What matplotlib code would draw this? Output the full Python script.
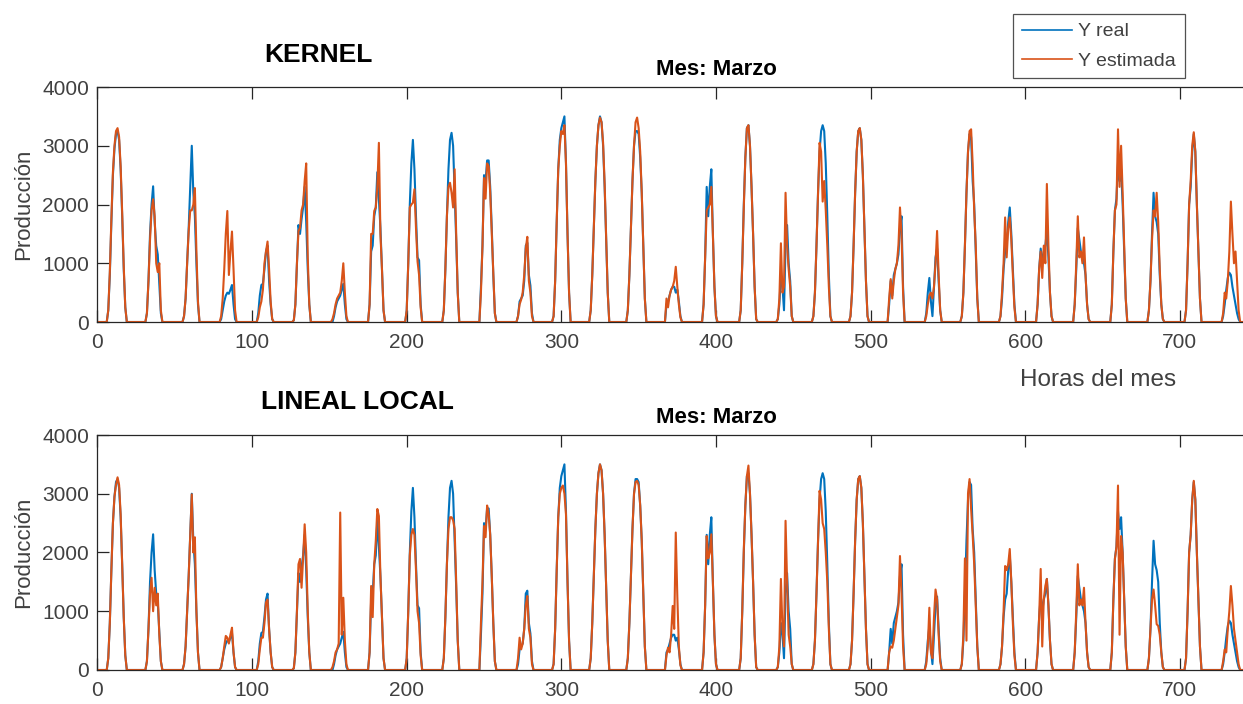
import numpy as np
import matplotlib
matplotlib.use("Agg")
import matplotlib.pyplot as plt

plt.rcParams['font.family'] = ['Liberation Sans', 'DejaVu Sans']

# hourly production for each day of March, hours 7..19 (night hours are zero)
first_hour = 7

y_real = [
    [200, 800, 1700, 2500, 2950, 3200, 3250, 3100, 2600, 1800, 900, 250, 0],
    [0, 150, 700, 1500, 2000, 2310, 1700, 1300, 1150, 650, 150, 0, 0],
    [0, 100, 400, 1000, 1600, 2300, 3000, 2200, 1800, 1000, 300, 0, 0],
    [0, 50, 200, 350, 450, 500, 480, 550, 630, 300, 50, 0, 0],
    [0, 150, 450, 630, 650, 900, 1200, 1300, 700, 300, 50, 0, 0],
    [30, 300, 1000, 1650, 1500, 1750, 1950, 2300, 1700, 900, 300, 0, 0],
    [0, 0, 100, 250, 350, 400, 450, 550, 650, 300, 50, 0, 0],
    [0, 300, 1200, 1300, 1800, 1950, 2550, 2100, 1600, 900, 200, 0, 0],
    [0, 200, 1000, 2000, 2700, 3100, 2600, 1800, 1100, 1050, 300, 0, 0],
    [0, 200, 900, 1800, 2600, 3100, 3220, 3000, 2200, 1400, 500, 0, 0],
    [0, 600, 1300, 2500, 2400, 2750, 2750, 2300, 1600, 800, 150, 0, 0],
    [0, 100, 350, 400, 450, 700, 1300, 1350, 800, 620, 150, 0, 0],
    [100, 700, 1700, 2600, 3100, 3300, 3400, 3500, 2700, 1500, 500, 0, 0],
    [200, 800, 1600, 2400, 3000, 3350, 3500, 3400, 3000, 2300, 1400, 500, 0],
    [200, 800, 1600, 2400, 3000, 3250, 3250, 3200, 2800, 2200, 1300, 400, 0],
    [0, 300, 350, 450, 550, 600, 600, 500, 550, 350, 100, 0, 0],
    [0, 300, 1100, 2300, 1800, 2300, 2600, 1500, 600, 100, 0, 0, 0],
    [0, 200, 1000, 2000, 2800, 3300, 3350, 3000, 2300, 1500, 600, 50, 0],
    [0, 50, 300, 800, 600, 200, 1300, 1650, 1000, 700, 100, 0, 0],
    [100, 500, 1300, 2200, 2900, 3250, 3350, 3250, 2700, 1800, 800, 100, 0],
    [100, 500, 1300, 2200, 2900, 3250, 3300, 3100, 2500, 1600, 700, 100, 0],
    [0, 300, 700, 450, 800, 900, 1000, 1150, 1600, 1800, 600, 0, 0],
    [0, 150, 500, 750, 350, 100, 600, 1100, 1250, 700, 200, 0, 0],
    [100, 500, 1300, 2200, 2900, 3200, 3150, 2400, 2000, 1200, 400, 0, 0],
    [0, 100, 400, 900, 1200, 1300, 1700, 1950, 1500, 900, 300, 0, 0],
    [0, 300, 900, 1250, 1000, 1200, 1300, 1550, 1100, 500, 100, 0, 0],
    [0, 300, 900, 1600, 1400, 1200, 1100, 1000, 800, 300, 50, 0, 0],
    [0, 300, 1200, 1900, 2100, 2700, 2400, 2600, 2000, 1200, 400, 0, 0],
    [0, 200, 700, 1500, 2200, 1800, 1700, 1500, 800, 300, 50, 0, 0],
    [0, 200, 1000, 2000, 2300, 2900, 3200, 2900, 2000, 1200, 400, 0, 0],
    [0, 100, 300, 550, 750, 840, 800, 600, 450, 300, 150, 50, 0],
]

y_kernel = [
    [200, 850, 1750, 2550, 3000, 3250, 3300, 3150, 2650, 1850, 950, 250, 0],
    [0, 150, 700, 1400, 1900, 2090, 1800, 1000, 850, 1000, 200, 0, 0],
    [0, 100, 400, 1000, 1550, 1900, 1900, 2000, 2280, 1200, 350, 0, 0],
    [0, 100, 400, 900, 1500, 1890, 800, 1200, 1540, 900, 200, 0, 0],
    [0, 80, 250, 350, 550, 1000, 1200, 1370, 900, 350, 50, 0, 0],
    [30, 300, 1000, 1550, 1600, 1900, 2000, 2400, 2700, 1100, 300, 0, 0],
    [0, 50, 150, 300, 400, 450, 500, 700, 1000, 500, 100, 0, 0],
    [0, 300, 1500, 1500, 1890, 1950, 2300, 3050, 1500, 900, 200, 0, 0],
    [0, 200, 1000, 1950, 2000, 2030, 2260, 1600, 1030, 800, 250, 0, 0],
    [0, 200, 900, 1800, 2300, 2370, 2200, 1950, 2600, 1500, 500, 0, 0],
    [0, 500, 1300, 2450, 2100, 2700, 2650, 2200, 1500, 800, 150, 0, 0],
    [0, 100, 300, 380, 500, 800, 1250, 1450, 700, 500, 100, 0, 0],
    [100, 700, 1700, 2600, 3000, 3250, 3200, 3350, 2700, 1500, 500, 0, 0],
    [200, 800, 1600, 2400, 3000, 3350, 3480, 3400, 3050, 2350, 1400, 500, 0],
    [200, 800, 1600, 2400, 3000, 3400, 3480, 3300, 2900, 2200, 1300, 400, 0],
    [0, 400, 250, 450, 550, 600, 700, 940, 600, 300, 80, 0, 0],
    [0, 300, 1100, 1900, 1950, 2000, 2300, 1500, 600, 100, 0, 0, 0],
    [0, 200, 1000, 1950, 2800, 3300, 3350, 3000, 2300, 1500, 600, 50, 0],
    [0, 50, 400, 1340, 500, 600, 2200, 1300, 900, 600, 100, 0, 0],
    [100, 500, 1300, 2200, 3050, 2900, 2050, 2400, 1900, 1300, 600, 100, 0],
    [100, 500, 1300, 2200, 2900, 3250, 3300, 3100, 2500, 1600, 700, 100, 0],
    [0, 400, 730, 400, 700, 900, 1000, 1300, 1950, 1500, 500, 0, 0],
    [0, 100, 300, 450, 500, 400, 600, 1000, 1550, 800, 200, 0, 0],
    [100, 500, 1300, 2200, 2900, 3250, 3280, 2700, 1900, 1300, 400, 0, 0],
    [0, 100, 500, 1000, 1780, 1100, 1600, 1780, 1400, 800, 250, 0, 0],
    [0, 300, 900, 1200, 750, 1300, 1000, 2350, 1300, 500, 100, 0, 0],
    [0, 300, 1000, 1800, 1100, 1200, 1000, 1440, 800, 300, 50, 0, 0],
    [0, 300, 1200, 1900, 2000, 3280, 2300, 3000, 2200, 1300, 400, 0, 0],
    [0, 200, 700, 1400, 1900, 1800, 2200, 1700, 900, 300, 50, 0, 0],
    [0, 200, 1000, 2000, 2400, 3000, 3230, 2900, 2000, 1200, 400, 0, 0],
    [0, 150, 500, 400, 700, 1200, 2050, 1500, 1000, 1200, 700, 200, 0],
]

y_lineal = [
    [200, 800, 1700, 2500, 2950, 3150, 3280, 3150, 2650, 1800, 900, 250, 0],
    [0, 150, 700, 1300, 1570, 1000, 1400, 1100, 1300, 600, 150, 0, 0],
    [0, 100, 400, 1000, 1600, 2300, 2990, 2000, 2260, 1000, 300, 0, 0],
    [0, 50, 200, 400, 580, 550, 450, 600, 720, 300, 50, 0, 0],
    [0, 100, 350, 550, 550, 800, 1150, 1200, 700, 300, 50, 0, 0],
    [30, 300, 1000, 1800, 1890, 1400, 1900, 2480, 2000, 1000, 300, 0, 0],
    [0, 50, 150, 300, 350, 450, 2680, 600, 1230, 500, 100, 0, 0],
    [0, 300, 1430, 900, 1800, 2200, 2740, 2620, 1600, 900, 200, 0, 0],
    [0, 200, 1000, 1950, 2300, 2400, 2300, 1700, 1000, 800, 250, 0, 0],
    [0, 200, 900, 1800, 2400, 2600, 2600, 2550, 2400, 1500, 500, 0, 0],
    [0, 800, 1500, 2450, 2260, 2800, 2650, 2300, 1600, 800, 150, 0, 0],
    [0, 200, 550, 350, 450, 700, 1100, 1260, 700, 550, 100, 0, 0],
    [100, 700, 1700, 2600, 3000, 3100, 3140, 3000, 2650, 1500, 500, 0, 0],
    [200, 800, 1600, 2400, 3000, 3350, 3500, 3400, 3000, 2300, 1400, 500, 0],
    [200, 800, 1600, 2400, 3000, 3200, 3220, 3150, 2800, 2200, 1300, 400, 0],
    [0, 250, 380, 300, 600, 1090, 700, 2340, 1260, 400, 80, 0, 0],
    [0, 300, 1100, 2280, 1900, 2000, 2310, 1500, 600, 100, 0, 0, 0],
    [0, 200, 1000, 2050, 2800, 3300, 3480, 3000, 2300, 1500, 600, 50, 0],
    [0, 50, 400, 1550, 700, 400, 2540, 1500, 600, 400, 100, 0, 0],
    [100, 500, 1300, 2200, 3050, 2900, 2500, 2400, 2000, 1500, 700, 100, 0],
    [100, 500, 1300, 2200, 2900, 3250, 3300, 3100, 2500, 1600, 700, 100, 0],
    [0, 300, 400, 380, 500, 700, 900, 1100, 1940, 1300, 400, 0, 0],
    [0, 100, 400, 1060, 300, 200, 900, 1370, 1200, 600, 150, 0, 0],
    [100, 600, 1900, 500, 3000, 3250, 2740, 2300, 1800, 1100, 400, 0, 0],
    [0, 100, 400, 1000, 1770, 1700, 1800, 2060, 1500, 800, 250, 0, 0],
    [0, 300, 900, 1720, 400, 1200, 1430, 1550, 1100, 500, 100, 0, 0],
    [0, 300, 1000, 1800, 1100, 1200, 1100, 1400, 800, 300, 50, 0, 0],
    [0, 300, 1200, 1890, 2100, 3140, 600, 2280, 2000, 1200, 400, 0, 0],
    [0, 200, 700, 1200, 1370, 1100, 780, 750, 600, 300, 50, 0, 0],
    [0, 200, 1000, 2000, 2300, 2900, 3220, 2900, 2000, 1200, 400, 0, 0],
    [0, 150, 350, 300, 700, 1000, 1430, 1100, 700, 500, 300, 100, 0],
]

x_ticks = [0, 100, 200, 300, 400, 500, 600, 700]
y_ticks = [0, 1000, 2000, 3000, 4000]

BLUE = '#0072BD'
ORANGE = '#D95319'
AXCOL = '#262626'
TXTCOL = '#404040'


def hourly(rows):
    y = np.zeros(24 * len(rows))
    for d, row in enumerate(rows):
        start = 24 * d + first_hour
        y[start:start + len(row)] = row
    return y


hours = np.arange(24 * len(y_real))
real = hourly(y_real)


def style_axes(ax):
    ax.set_xlim(0, 800)
    ax.set_ylim(0, 4000)
    ax.set_xticks(x_ticks)
    ax.set_yticks(y_ticks)
    ax.tick_params(direction='in', length=8.5, width=0.9, color=AXCOL,
                   labelcolor=TXTCOL, labelsize=15, top=True, pad=6)
    ax.tick_params(axis='x', pad=8)
    for s in ax.spines.values():
        s.set_color(AXCOL)
        s.set_linewidth(0.9)
    ax.set_ylabel('Producción', fontsize=16, color=TXTCOL, labelpad=6)
    ax.set_title('Mes: Marzo', fontsize=16, fontweight='bold', pad=9)


fig = plt.figure(figsize=(12.43, 7.04), dpi=100)
ax1 = fig.add_axes([0.0784, 0.5426, 0.9952, 0.3338])
ax2 = fig.add_axes([0.0784, 0.0483, 0.9952, 0.3338])

h_real, = ax1.plot(hours, real, color=BLUE, lw=1.5, label='Y real')
h_est, = ax1.plot(hours, hourly(y_kernel), color=ORANGE, lw=1.5, label='Y estimada')
ax2.plot(hours, real, color=BLUE, lw=1.5)
ax2.plot(hours, hourly(y_lineal), color=ORANGE, lw=1.5)

style_axes(ax1)
style_axes(ax2)

fig.text(0.2558, 0.922, 'KERNEL', fontsize=19, fontweight='bold', ha='center', va='center')
fig.text(0.2872, 0.429, 'LINEAL LOCAL', fontsize=19, fontweight='bold', ha='center', va='center')
fig.text(0.8833, 0.460, 'Horas del mes', fontsize=17.5, color=TXTCOL, ha='center', va='center')

leg = fig.legend(handles=[h_real, h_est], loc='upper left',
                 bbox_to_anchor=(1013 / 1243, 1 - 14 / 704), fontsize=14,
                 frameon=True, fancybox=False, handlelength=2.6,
                 handletextpad=0.3, borderpad=0.45, labelspacing=0.6,
                 borderaxespad=0)
leg.get_frame().set_edgecolor(AXCOL)
leg.get_frame().set_linewidth(0.9)
for t in leg.get_texts():
    t.set_color(TXTCOL)
for ln in leg.get_lines():
    ln.set_linewidth(1.2)

fig.savefig('out.png', dpi=100)
